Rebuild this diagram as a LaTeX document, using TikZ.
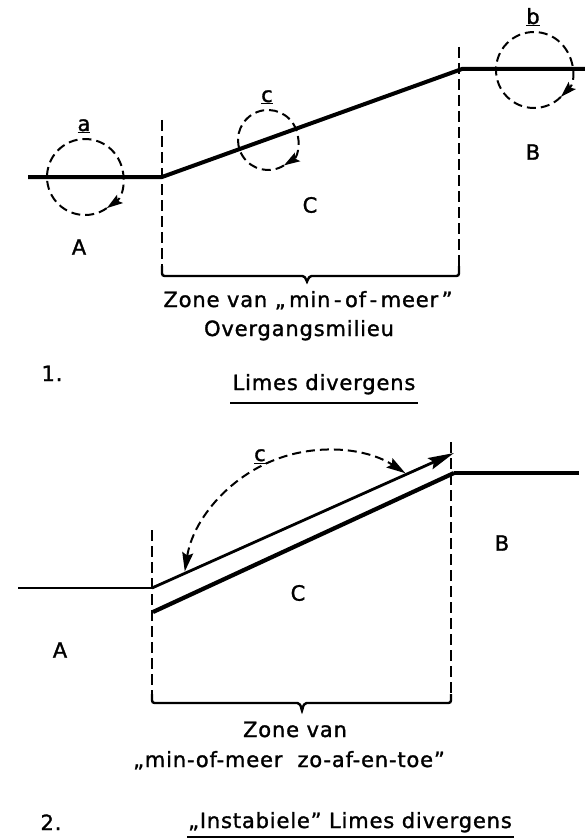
\documentclass[tikz,border=0pt]{standalone}
\usepackage{fontspec}
\setmainfont{DejaVu Sans}[LetterSpace=4,FakeBold=1.4]
\usetikzlibrary{arrows.meta,calc}

\begin{document}
\begin{tikzpicture}[
		x=1pt, y=1pt,
		>={Stealth[length=19pt,width=11pt,inset=3pt]},
		ground/.style={line width=4pt},
		slope/.style={line width=2.8pt},
		whirl/.style={line width=2pt, dash pattern=on 9pt off 5pt},
		zone/.style={line width=2pt, dash pattern=on 11pt off 5pt},
		bracket/.style={line width=2.4pt, rounded corners=2.5pt},
		every node/.style={
			font=\fontsize{21}{24}\selectfont,
			inner sep=0pt
		}
		]
		\useasboundingbox (0,0) rectangle (585,-840);
		
		%--------------------------------------------------
		% 1. Limes divergens
		%--------------------------------------------------
		
		\coordinate (a0) at (28,-177);
		\coordinate (a1) at (162,-177);
		\coordinate (b1) at (462,-69);
		\coordinate (b0) at (585,-69);
		\draw[ground] (a0) -- (a1) -- (b1) -- (b0);
		
		% circulations a, c, b
		\foreach \n/\x/\y/\r/\a in {a/85/177/38/-55, c/268/140/30/-58, b/534/70/38/-45}
		{
			\coordinate (w\n) at (\x,-\y);
			\draw[whirl,-{Stealth[length=16pt,width=10pt,inset=3pt]}] (w\n) ++(\a+360:\r) arc[start angle=\a+360, end angle=\a, radius=\r];
			\node (l\n) [anchor=base] at ($(w\n)+(-1,\r+8)$) {\underline{\n}};
		}
		
		\node (zA) at (79,-247) {A};
		\node (zC) at (310,-205) {C};
		\node (zB) at (533,-152) {B};
		
		\draw[zone] (162,-120) -- (162,-268);
		\draw[zone] (459,-47) -- (459,-268);
		\draw[bracket] (162,-266) -- (162,-276) -- (300,-276)
		.. controls (304,-276) and (306,-278) .. (307,-283)
		.. controls (308,-278) and (310,-276) .. (314,-276)
		-- (459,-276) -- (459,-266);
		
		\node (zone1) [anchor=base] at (308,-307) {Zone van „\,min\,-\,of\,-\,meer\,”};
		\node (zone2) [anchor=base] at (299,-336) {Overgangsmilieu};
		
		\node (nr1) [anchor=base] at (52,-381) {1.};
		\node (title1) [anchor=base] at (324,-390) {Limes divergens};
		\draw[line width=2.4pt] (230,-403) -- (418,-403);
		
		%--------------------------------------------------
		% 2. Instabiele limes divergens
		%--------------------------------------------------
		
		\coordinate (p0) at (18,-588);
		\coordinate (p1) at (152,-588);
		\coordinate (p2) at (454,-453);
		\coordinate (q1) at (153,-612);
		\coordinate (q2) at (454,-473);
		\coordinate (q3) at (579,-473);
		\draw[slope] (p0) -- (p1);
		\draw[slope,-{Stealth[length=26pt,width=12pt,inset=4pt]}] (p1) -- (p2);
		\draw[line width=4.2pt] (q1) -- (q2);
		\draw[line width=3.2pt] (q2) -- (q3);
		
		% circulation c
		\coordinate (m) at (327,-594);
		\draw[whirl,<->] (m) ++(171:144) arc[start angle=171, end angle=57, radius=144];
		\node (lc2) [anchor=base] at (260,-461) {\underline{c}};
		
		\node (yA) at (60,-650) {A};
		\node (yC) at (298,-593) {C};
		\node (yB) at (502,-543) {B};
		
		\draw[zone] (152,-530) -- (152,-696);
		\draw[zone] (451,-442) -- (451,-696);
		\draw[bracket] (152,-694) -- (152,-703) -- (295,-703)
		.. controls (299,-703) and (301,-705) .. (302,-712)
		.. controls (303,-705) and (305,-703) .. (309,-703)
		-- (451,-703) -- (451,-694);
		
		\node (zone3) [anchor=base] at (295,-737) {Zone van};
		\node (zone4) [anchor=base] at (289,-767) {„min-of-meer\ \ zo-af-en-toe”};
		
		\node (nr2) [anchor=base] at (51,-830) {2.};
		\node (title2) [anchor=base] at (350,-828) {„Instabiele” Limes divergens};
		\draw[line width=2.4pt] (187,-837) -- (514,-837);
		
	\end{tikzpicture}
\end{document}
